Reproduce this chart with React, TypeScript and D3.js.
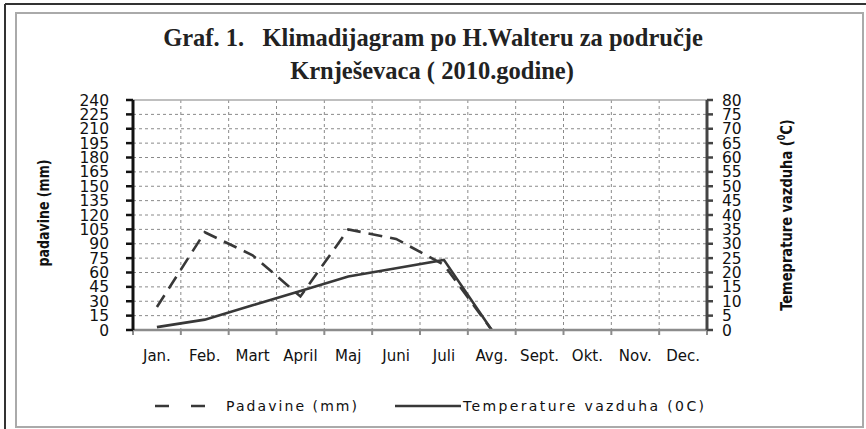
import * as d3 from 'd3'

// climate diagram values
const months = ['Jan.', 'Feb.', 'Mart', 'April', 'Maj', 'Juni', 'Juli', 'Avg.', 'Sept.', 'Okt.', 'Nov.', 'Dec.']
const padavine: (number | null)[] = [24, 102, 78, 35, 105, 95, 68, 0, null, null, null, null]
const temperatura: (number | null)[] = [1, 3.6, 8.6, 13.6, 18.6, 21.5, 24.4, 0, null, null, null, null]
const leftTicks = d3.range(0, 241, 15)
const rightTicks = d3.range(0, 81, 5)

const W = 866
const H = 429
const plot = { left: 133, right: 707, top: 100, bottom: 330 }

const App = () => {
  const x = d3.scaleBand<string>().domain(months).range([plot.left, plot.right]).padding(0)
  const yL = d3.scaleLinear().domain([0, 240]).range([plot.bottom, plot.top])
  const yR = d3.scaleLinear().domain([0, 80]).range([plot.bottom, plot.top])
  const cx = (i: number) => (x(months[i]) as number) + x.bandwidth() / 2

  const rainLine = d3
    .line<number | null>()
    .defined((d) => d !== null)
    .x((_, i) => cx(i))
    .y((d) => yL(d as number))
  const tempLine = d3
    .line<number | null>()
    .defined((d) => d !== null)
    .x((_, i) => cx(i))
    .y((d) => yR(d as number))

  const boundaries = months.map((m) => x(m) as number).concat([plot.right])
  const lineColor = '#383838'
  const tickFont = 'DejaVu Sans, sans-serif'
  const labelFont = 'DejaVu Sans Condensed, sans-serif'

  return (
    <svg width={W} height={H} style={{ position: 'absolute', left: 0, top: 0, background: '#fff' }}>
      {/* frames */}
      <line x1={5} y1={4} x2={W} y2={4} stroke="#333" strokeWidth={2} />
      <line x1={5} y1={4} x2={5} y2={H} stroke="#333" strokeWidth={2} />
      <rect x={16} y={13} width={847} height={414} fill="none" stroke="#aaa" strokeWidth={2} />

      {/* title */}
      <text x={433} y={46} textAnchor="middle" fontFamily="Liberation Serif, serif" fontWeight="bold" fontSize={24.5} fill="#222">
        Graf. 1.{'\u00a0\u00a0\u00a0'}Klimadijagram po H.Walteru za područje
      </text>
      <text x={432} y={79} textAnchor="middle" fontFamily="Liberation Serif, serif" fontWeight="bold" fontSize={24.5} fill="#222">
        Krnješevaca ( 2010.godine)
      </text>

      {/* grid */}
      {leftTicks.slice(1, -1).map((t) => (
        <line key={'h' + t} x1={plot.left} x2={plot.right} y1={yL(t)} y2={yL(t)} stroke="#8a8a8a" strokeWidth={1} strokeDasharray="3,3" />
      ))}
      {boundaries.slice(1, -1).map((b, i) => (
        <line key={'v' + i} x1={b} x2={b} y1={plot.top} y2={plot.bottom} stroke="#8a8a8a" strokeWidth={1} strokeDasharray="3,3" />
      ))}
      <line x1={plot.left} x2={plot.right} y1={plot.top} y2={plot.top} stroke="#aaa" strokeWidth={1.5} />

      {/* series */}
      <path d={rainLine(padavine) || ''} fill="none" stroke={lineColor} strokeWidth={2.6} strokeDasharray="14,8" />
      <path d={tempLine(temperatura) || ''} fill="none" stroke={lineColor} strokeWidth={2.6} />

      {/* bottom axis */}
      <line x1={plot.left} x2={plot.right} y1={plot.bottom} y2={plot.bottom} stroke="#8c8c8c" strokeWidth={2.5} />
      {boundaries.map((b, i) => (
        <line key={'bt' + i} x1={b} x2={b} y1={plot.bottom} y2={plot.bottom + 5} stroke="#8c8c8c" strokeWidth={2} />
      ))}
      {months.map((m, i) => (
        <text key={m} x={cx(i)} y={361} textAnchor="middle" fontFamily={tickFont} fontSize={15} fill="#111">
          {m}
        </text>
      ))}

      {/* left axis */}
      <line x1={plot.left} x2={plot.left} y1={plot.top} y2={plot.bottom} stroke="#111" strokeWidth={3} />
      {leftTicks.map((t) => (
        <g key={'l' + t}>
          <line x1={plot.left - 7} x2={plot.left} y1={yL(t)} y2={yL(t)} stroke="#111" strokeWidth={2.5} />
          <text x={109} y={yL(t) + 5.5} textAnchor="end" fontFamily={tickFont} fontSize={15.5} fill="#111">
            {t}
          </text>
        </g>
      ))}
      <text
        transform={`translate(49,${(plot.top + plot.bottom) / 2 - 2}) rotate(-90)`}
        textAnchor="middle"
        fontFamily={labelFont}
        fontWeight="bold"
        fontSize={16}
        textLength={107}
        lengthAdjust="spacingAndGlyphs"
        fill="#111"
      >
        padavine (mm)
      </text>

      {/* right axis */}
      <line x1={plot.right} x2={plot.right} y1={plot.top} y2={plot.bottom} stroke="#444" strokeWidth={3} />
      {rightTicks.map((t) => (
        <g key={'r' + t}>
          <line x1={plot.right} x2={plot.right + 6} y1={yR(t)} y2={yR(t)} stroke="#444" strokeWidth={2.5} />
          <text x={722} y={yR(t) + 5.5} textAnchor="start" fontFamily={tickFont} fontSize={15.5} fill="#111">
            {t}
          </text>
        </g>
      ))}
      <g transform={`translate(792,${(plot.top + plot.bottom) / 2}) rotate(-90) scale(0.88,1)`}>
        <text textAnchor="middle" fontFamily={labelFont} fontWeight="bold" fontSize={16.5} fill="#111">
          Temeprature vazduha (
          <tspan fontSize={10} dy={-7}>0</tspan>
          <tspan dy={7}>C)</tspan>
        </text>
      </g>

      {/* legend */}
      <line x1={155} x2={207} y1={406} y2={406} stroke={lineColor} strokeWidth={2.6} strokeDasharray="14,22" />
      <text x={226} y={411} fontFamily={tickFont} fontSize={14} textLength={131} lengthAdjust="spacing" fill="#111">
        Padavine (mm)
      </text>
      <line x1={395} x2={461} y1={406} y2={406} stroke={lineColor} strokeWidth={2.6} />
      <text x={463} y={411} fontFamily={tickFont} fontSize={14} textLength={241} lengthAdjust="spacing" fill="#111">
        Temperature vazduha (0C)
      </text>
    </svg>
  )
}

export default App
